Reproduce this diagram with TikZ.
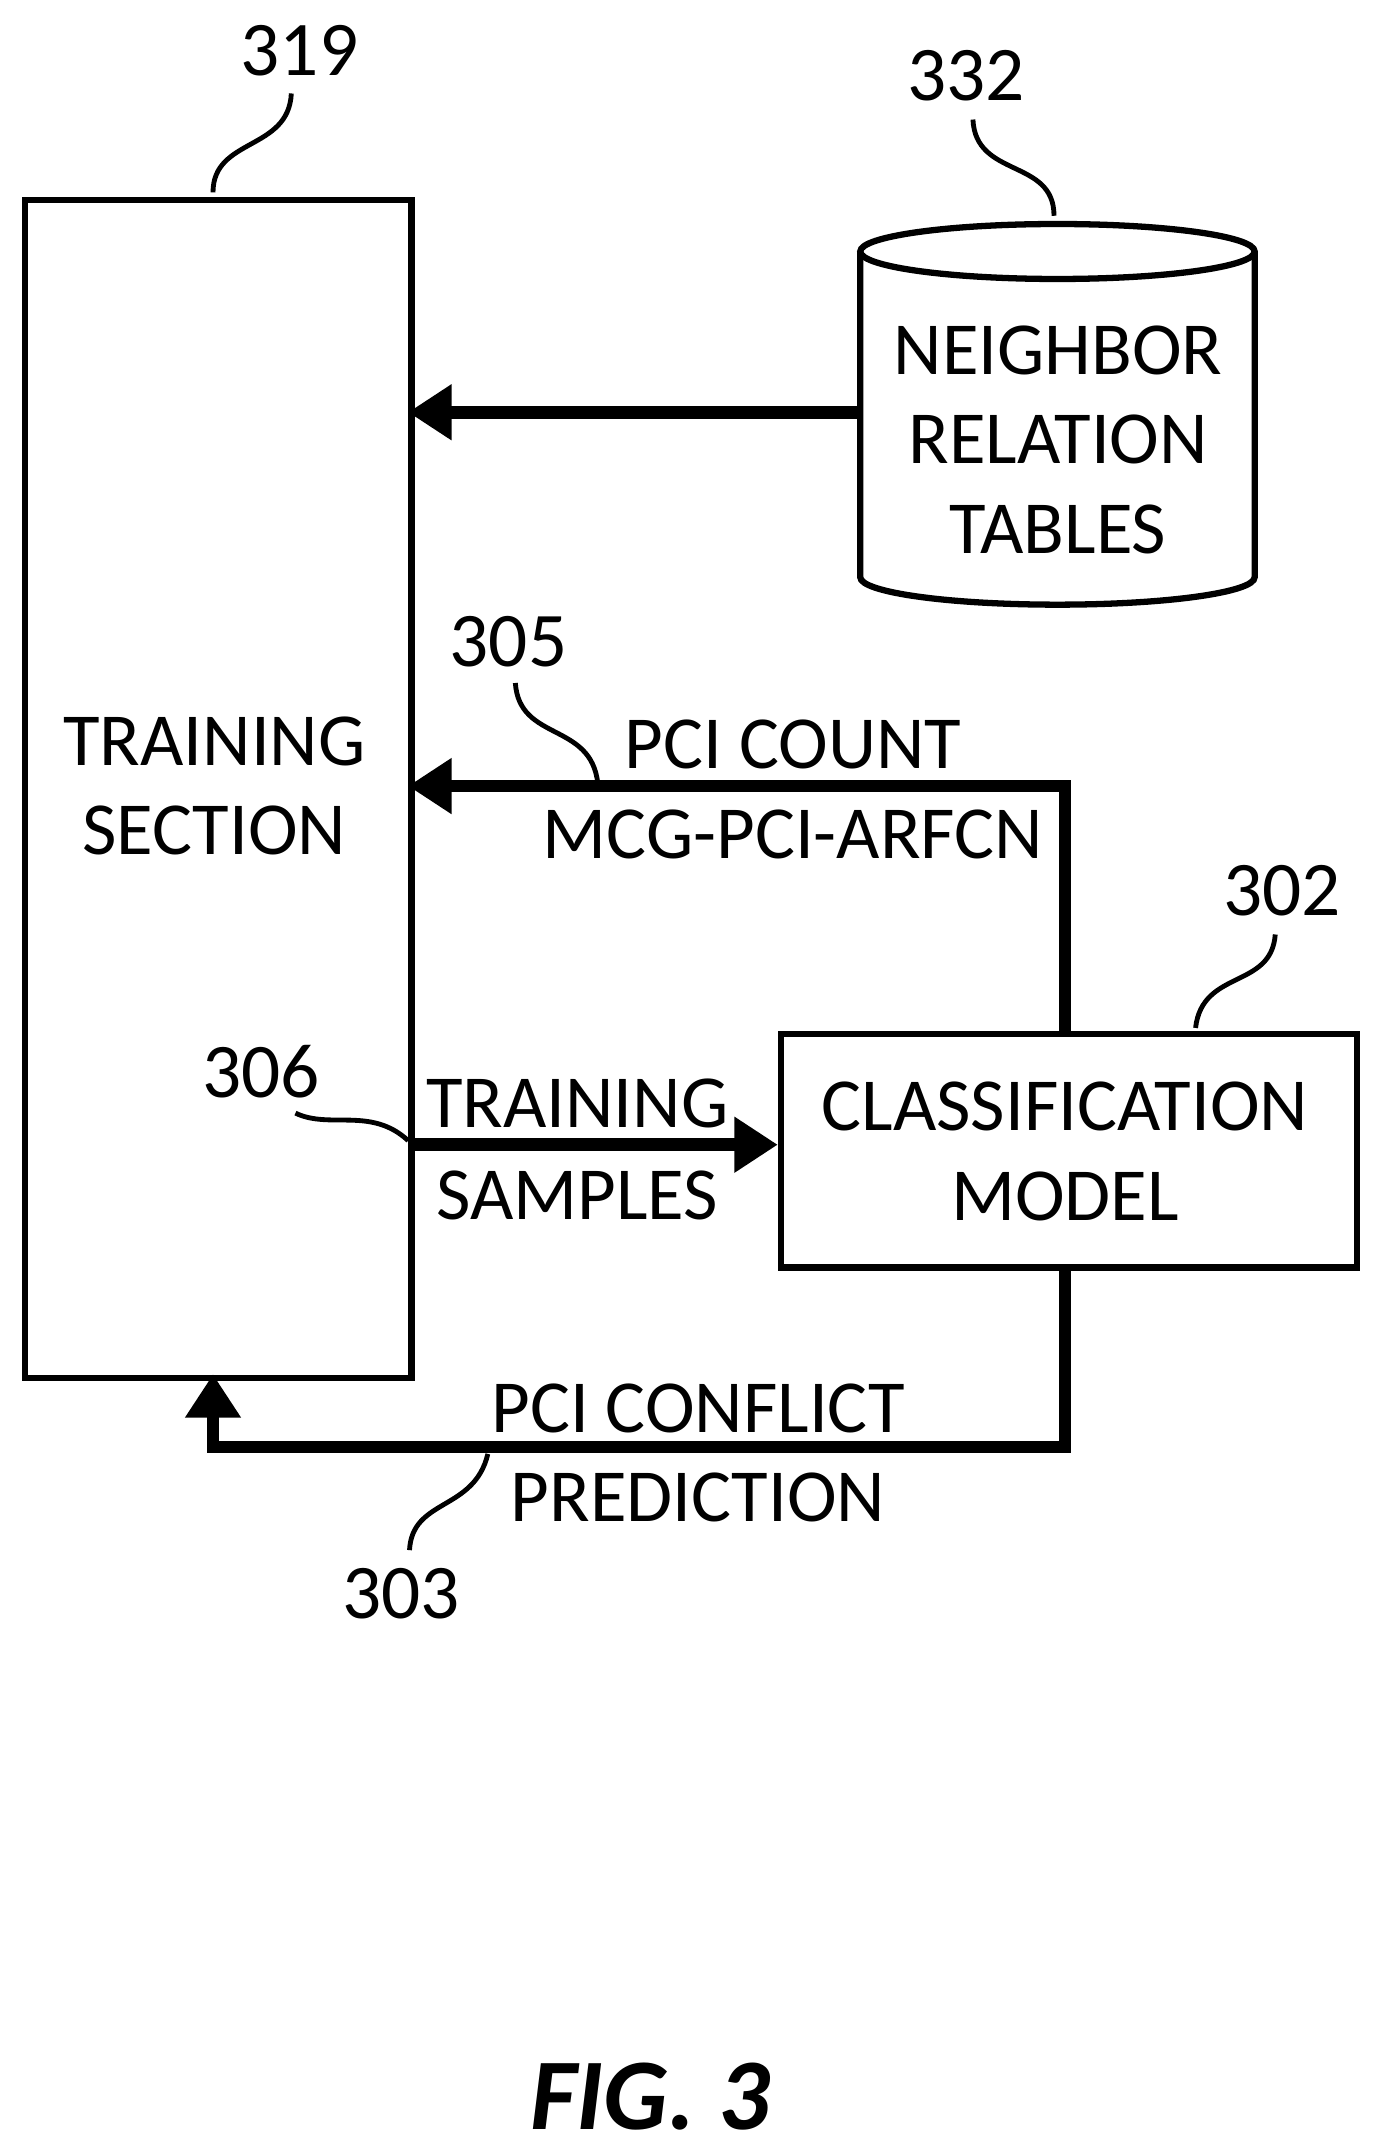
\documentclass[tikz,border=0pt]{standalone}
\usepackage{fontspec}
\setmainfont{Carlito}
\usetikzlibrary{arrows.meta,shapes.geometric}
\begin{document}
\begin{tikzpicture}[x=0.01cm,y=-0.01cm,
  box/.style={draw,line width=1.3pt},
  flow/.style={line width=2.6pt,-{Triangle[length=9pt,width=11pt]}},
  lead/.style={line width=1pt},
  lbl/.style={font=\fontsize{15.5}{18.5}\selectfont,inner sep=0},
  num/.style={font=\fontsize{16}{19}\selectfont,inner sep=0}]
\useasboundingbox (0,0) rectangle (1000,1566);
\node[box,anchor=north west,inner sep=0,minimum width=2.81cm,minimum height=8.57cm] (ts) at (16,143) {};
\node[lbl,align=center] (tst) at (156,572) {TRAINING\\SECTION};
% cylinder
\coordinate (cyl) at (626,300);
\draw[box,fill=white] (626,183) -- (626,420) arc[start angle=180,end angle=0,x radius=143.5,y radius=20] -- (913,183);
\draw[box] (769.5,183) ellipse[x radius=143.5,y radius=20];
\node[lbl,align=center] (nrt) at (770,320) {NEIGHBOR\\RELATION\\TABLES};
\node[box,anchor=north west,inner sep=0,minimum width=4.19cm,minimum height=1.7cm] (cm) at (566,750) {};
\node[lbl,align=center] at (775,838) {CLASSIFICATION\\MODEL};
% arrows
\draw[flow] (cyl) -- (297,300);
\coordinate (c1) at (775,572);
\draw[flow] (775,750) -- (c1) -- (297,572);
\node[lbl] at (577,542) {PCI COUNT};
\node[lbl] at (577,607) {MCG-PCI-ARFCN};
\draw[flow] (297,833) -- (566,833);
\node[lbl] at (420,803) {TRAINING};
\node[lbl] at (420,870) {SAMPLES};
\coordinate (c2) at (775,1053);
\coordinate (c3) at (155,1053);
\draw[flow] (775,920) -- (c2) -- (c3) -- (155,1000);
\node[lbl] at (508,1025) {PCI CONFLICT};
\node[lbl] at (508,1090) {PREDICTION};
% reference numbers
\node[num] (n319) at (218,37) {319};
\draw[lead] (155,140) .. controls (155,100) and (210,110) .. (212,68);
\node[num] (n332) at (703,55) {332};
\draw[lead] (767,157) .. controls (767,115) and (710,130) .. (708,87);
\node[num] (n305) at (370,467) {305};
\draw[lead] (435,570) .. controls (430,525) and (378,540) .. (375,497);
\node[num] (n302) at (933,648) {302};
\draw[lead] (870,748) .. controls (875,705) and (925,720) .. (928,680);
\node[num] (n306) at (190,780) {306};
\draw[lead] (297,830) .. controls (270,805) and (240,822) .. (215,810);
\node[num] (n303) at (292,1160) {303};
\draw[lead] (355,1058) .. controls (345,1100) and (300,1090) .. (298,1128);
\node[font=\fontsize{21}{25}\selectfont\bfseries\itshape,inner sep=0] (fig) at (473,1526) {FIG. 3};
\end{tikzpicture}
\end{document}
